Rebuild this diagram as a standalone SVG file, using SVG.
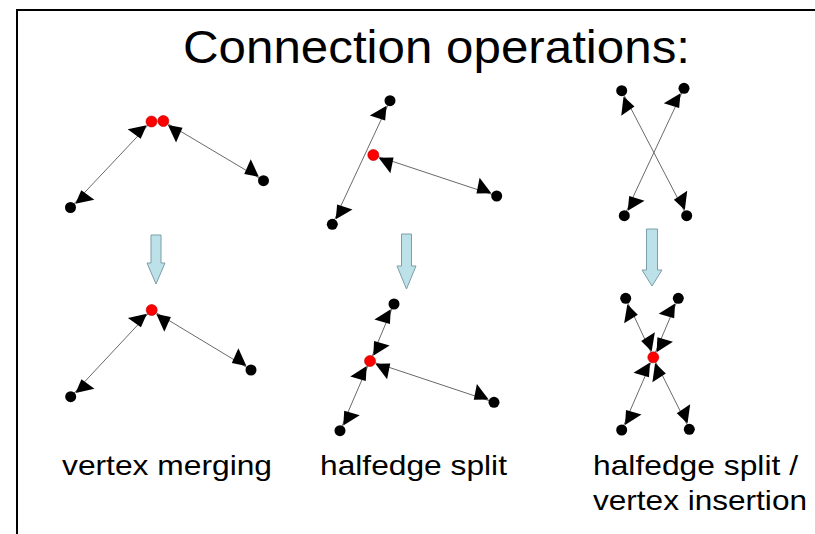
<svg xmlns="http://www.w3.org/2000/svg" width="815" height="534" viewBox="0 0 815 534">
<style>
.edge{stroke:#6a6a6a;stroke-width:1;fill:none}
.he{stroke:none;fill:none;marker-end:url(#h)}
.v{fill:#000}
.r{fill:#f00;stroke:#b00;stroke-width:0.6}
.blue{fill:#bde1e8;stroke:#7c9ea8;stroke-width:1}
.t{font-family:"Liberation Sans",Arial,sans-serif;fill:#000}
</style>
<defs>
<marker id="h" markerUnits="userSpaceOnUse" orient="auto" refX="0" refY="0" markerWidth="40" markerHeight="40" overflow="visible">
<path d="M-6,-1 L-22,-12 L-20,4 Z" fill="#000"/>
</marker>
</defs>
<rect x="0" y="0" width="815" height="534" fill="#fff"/>
<path d="M17,545 L17,10 L830,10" fill="none" stroke="#000" stroke-width="2"/>
<text class="t" x="436.5" y="63" font-size="46" text-anchor="middle" textLength="507" lengthAdjust="spacingAndGlyphs">Connection operations:</text>

<g id="connectors">
<!-- panel 1 top -->
<path class="edge" d="M70.5,207.5 L151.5,121.5"/>
<path class="he" d="M70.5,207.5 L151.5,121.5"/>
<path class="he" d="M151.5,121.5 L70.5,207.5"/>
<path class="edge" d="M163.3,121 L263.5,180.7"/>
<path class="he" d="M163.3,121 L263.5,180.7"/>
<path class="he" d="M263.5,180.7 L163.3,121"/>
<!-- panel 2 top -->
<path class="edge" d="M332.3,224.3 L390,100.7"/>
<path class="he" d="M332.3,224.3 L390,100.7"/>
<path class="he" d="M390,100.7 L332.3,224.3"/>
<path class="edge" d="M373.3,155 L496.7,196"/>
<path class="he" d="M373.3,155 L496.7,196"/>
<path class="he" d="M496.7,196 L373.3,155"/>
<!-- panel 3 top -->
<path class="edge" d="M621.7,90.7 L686.7,215.7"/>
<path class="he" d="M621.7,90.7 L686.7,215.7"/>
<path class="he" d="M686.7,215.7 L621.7,90.7"/>
<path class="edge" d="M684,88.3 L624.3,215.7"/>
<path class="he" d="M684,88.3 L624.3,215.7"/>
<path class="he" d="M624.3,215.7 L684,88.3"/>
<!-- panel 1 bottom -->
<path class="edge" d="M70.7,396.7 L151.7,310"/>
<path class="he" d="M70.7,396.7 L151.7,310"/>
<path class="he" d="M151.7,310 L70.7,396.7"/>
<path class="edge" d="M151.7,310 L251,370"/>
<path class="he" d="M151.7,310 L251,370"/>
<path class="he" d="M251,370 L151.7,310"/>
<!-- panel 2 bottom -->
<path class="edge" d="M370,361 L394,304"/>
<path class="he" d="M370,361 L394,304"/>
<path class="he" d="M394,304 L370,361"/>
<path class="edge" d="M370,361 L340,430.7"/>
<path class="he" d="M370,361 L340,430.7"/>
<path class="he" d="M340,430.7 L370,361"/>
<path class="edge" d="M370,361 L494,402.3"/>
<path class="he" d="M370,361 L494,402.3"/>
<path class="he" d="M494,402.3 L370,361"/>
<!-- panel 3 bottom -->
<path class="edge" d="M653.3,357.3 L625.7,298.3"/>
<path class="he" d="M653.3,357.3 L625.7,298.3"/>
<path class="he" d="M625.7,298.3 L653.3,357.3"/>
<path class="edge" d="M653.3,357.3 L678.3,298.3"/>
<path class="he" d="M653.3,357.3 L678.3,298.3"/>
<path class="he" d="M678.3,298.3 L653.3,357.3"/>
<path class="edge" d="M653.3,357.3 L621.7,430"/>
<path class="he" d="M653.3,357.3 L621.7,430"/>
<path class="he" d="M621.7,430 L653.3,357.3"/>
<path class="edge" d="M653.3,357.3 L689.3,429.3"/>
<path class="he" d="M653.3,357.3 L689.3,429.3"/>
<path class="he" d="M689.3,429.3 L653.3,357.3"/>
</g>

<g id="vertices-top">
<g id="v1a"><circle class="v" cx="70.5" cy="207.5" r="5.5"/></g>
<g id="v1b"><circle class="r" cx="151.5" cy="121.5" r="5.5"/></g>
<g id="v1c"><circle class="r" cx="163.3" cy="121" r="5.5"/></g>
<g id="v1d"><circle class="v" cx="263.5" cy="180.7" r="5.5"/></g>
<g id="v2a"><circle class="v" cx="332.3" cy="224.3" r="5.5"/></g>
<g id="v2b"><circle class="v" cx="390" cy="100.7" r="5.5"/></g>
<g id="v2c"><circle class="r" cx="373.3" cy="155" r="5.5"/></g>
<g id="v2d"><circle class="v" cx="496.7" cy="196" r="5.5"/></g>
<g id="v3a"><circle class="v" cx="621.7" cy="90.7" r="5.5"/></g>
<g id="v3b"><circle class="v" cx="684" cy="88.3" r="5.5"/></g>
<g id="v3c"><circle class="v" cx="624.3" cy="215.7" r="5.5"/></g>
<g id="v3d"><circle class="v" cx="686.7" cy="215.7" r="5.5"/></g>
</g>
<g id="vertices-bottom">
<g id="w1a"><circle class="v" cx="70.7" cy="396.7" r="5.5"/></g>
<g id="w1b"><circle class="r" cx="151.7" cy="310" r="5.5"/></g>
<g id="w1c"><circle class="v" cx="251" cy="370" r="5.5"/></g>
<g id="w2a"><circle class="v" cx="394" cy="304" r="5.5"/></g>
<g id="w2b"><circle class="r" cx="370" cy="361" r="5.5"/></g>
<g id="w2c"><circle class="v" cx="340" cy="430.7" r="5.5"/></g>
<g id="w2d"><circle class="v" cx="494" cy="402.3" r="5.5"/></g>
<g id="w3a"><circle class="v" cx="625.7" cy="298.3" r="5.5"/></g>
<g id="w3b"><circle class="v" cx="678.3" cy="298.3" r="5.5"/></g>
<g id="w3c"><circle class="r" cx="653.3" cy="357.3" r="5.5"/></g>
<g id="w3d"><circle class="v" cx="621.7" cy="430" r="5.5"/></g>
<g id="w3e"><circle class="v" cx="689.3" cy="429.3" r="5.5"/></g>
</g>

<g id="transitions">
<path class="blue" d="M151,235 L161,235 L161,263 L165,263 L156,284 L147,263 L151,263 Z"/>
<path class="blue" d="M401.5,234 L411.5,234 L411.5,266 L416,266 L406.5,289 L397,266 L401.5,266 Z"/>
<path class="blue" d="M646.5,229 L657.5,229 L657.5,270 L662,270 L652,286 L642,270 L646.5,270 Z"/>
</g>

<g id="labels">
<text class="t" x="62" y="475" font-size="28" textLength="210" lengthAdjust="spacingAndGlyphs">vertex merging</text>
<text class="t" x="320" y="475" font-size="28" textLength="187" lengthAdjust="spacingAndGlyphs">halfedge split</text>
<text class="t" x="593" y="475" font-size="28" textLength="205" lengthAdjust="spacingAndGlyphs">halfedge split /</text>
<text class="t" x="593" y="510" font-size="28" textLength="214" lengthAdjust="spacingAndGlyphs">vertex insertion</text>
</g>
</svg>
